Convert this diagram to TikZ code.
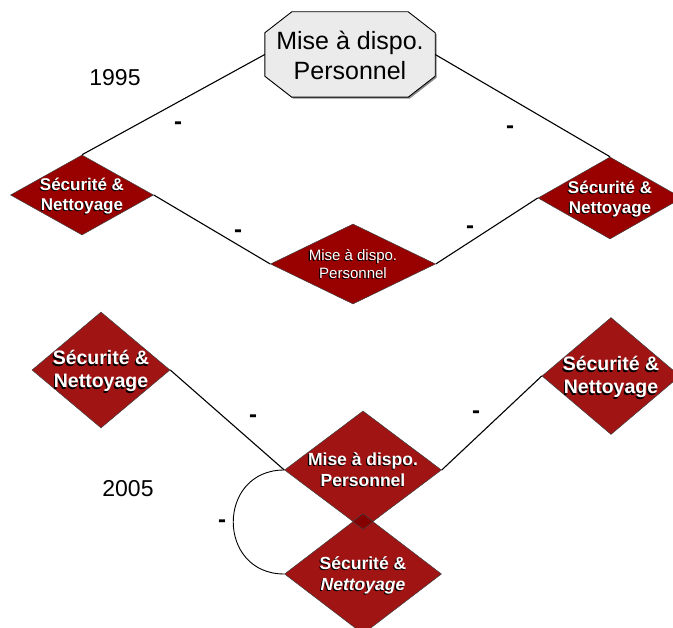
\documentclass[tikz,border=0pt]{standalone}
\usepackage{fontspec}
\setmainfont{Liberation Sans}
\usetikzlibrary{shapes.geometric,calc}
\pgfdeclarelayer{background}
\pgfsetlayers{background,main}

\definecolor{oldred}{HTML}{990000}
\definecolor{newred}{HTML}{A01414}
\definecolor{overlapred}{HTML}{850000}
\definecolor{octfill}{HTML}{EBEBEB}

% white lettering with a dark drop shadow
\newcommand\shtxt[1]{\leavevmode\rlap{\kern-1.1pt\raisebox{-1.1pt}{\color{black}#1}}{\color{white}#1}}
% centred text block that does not enlarge the shape around it
\newcommand\ctr[1]{\makebox[0pt]{\smash{\raisebox{-0.36em}{\begin{tabular}{@{}c@{}}#1\end{tabular}}}}}

\begin{document}
\begin{tikzpicture}[x=1pt,y=-1pt,
  link/.style={draw=black, line width=1.1pt},
  thinlink/.style={draw=black, line width=0.9pt},
  rhomb/.style={diamond, draw=black!75, line width=0.5pt, inner sep=0pt},
  red95/.style={rhomb, fill=oldred},
  red05/.style={rhomb, fill=newred},
  sidefont/.style={font=\bfseries\fontsize{17}{20}\selectfont},
  midfont/.style={font=\fontsize{15}{18}\selectfont},
  bigfont/.style={font=\bfseries\fontsize{19.5}{23}\selectfont},
  stackfont/.style={font=\bfseries\fontsize{17.5}{20.5}\selectfont},
  minus/.style={font=\bfseries\fontsize{24}{24}\selectfont, inner sep=0pt},
  year/.style={font=\fontsize{23}{23}\selectfont, inner sep=0pt}
]
\useasboundingbox (0,0) rectangle (673,628);

% ---------- 1995 ----------
\node[minimum width=170, minimum height=85, inner sep=0pt,
      font=\fontsize{25}{30}\selectfont] (oct) at (350,54.5)
      {\raisebox{-2.5pt}{\ctr{Mise à dispo.\\Personnel}}};
\begin{pgfonlayer}{background}
  \fill[black!45] ($(oct.north west)+(28.5,1.5)$) -- ($(oct.north east)+(-25.5,1.5)$)
    -- ($(oct.north east)+(1.5,22.5)$) -- ($(oct.south east)+(1.5,-19.5)$)
    -- ($(oct.south east)+(-25.5,1.5)$) -- ($(oct.south west)+(28.5,1.5)$)
    -- ($(oct.south west)+(1.5,-19.5)$) -- ($(oct.north west)+(1.5,22.5)$) -- cycle;
  \draw[fill=octfill, line width=0.9pt]
    ($(oct.north west)+(27,0)$) -- ($(oct.north east)+(-27,0)$)
    -- ($(oct.north east)+(0,21)$) -- ($(oct.south east)+(0,-21)$)
    -- ($(oct.south east)+(-27,0)$) -- ($(oct.south west)+(27,0)$)
    -- ($(oct.south west)+(0,-21)$) -- ($(oct.north west)+(0,21)$) -- cycle;
\end{pgfonlayer}

\node[red95, sidefont, minimum width=143, minimum height=80] (L95) at (82,195)
  {\ctr{\shtxt{Sécurité \&}\\\shtxt{Nettoyage}}};
\node[red95, sidefont, minimum width=144, minimum height=82] (R95) at (610,198)
  {\ctr{\shtxt{Sécurité \&}\\\shtxt{Nettoyage}}};
\node[red95, midfont, minimum width=165, minimum height=80] (M95) at (353,264)
  {\ctr{\shtxt{Mise à dispo.}\\\shtxt{Personnel}}};

\draw[link] (oct.west) -- (L95.north);
\draw[link] (oct.east) -- (R95.north);
\draw[link] (L95.east) -- (M95.west);
\draw[link] (M95.east) -- (R95.west);

\node[minus] (m1) at (178,126) {-};
\node[minus] (m2) at (510,130) {-};
\node[minus] (m3) at (238,234) {-};
\node[minus] (m4) at (470,230) {-};

\node[year] (y95) at (115,78) {1995};

% ---------- 2005 ----------
\node[red05, bigfont, minimum width=138, minimum height=116] (L05) at (101,370)
  {\ctr{\shtxt{Sécurité \&}\\\shtxt{Nettoyage}}};
\node[red05, bigfont, minimum width=138, minimum height=117] (R05) at (611,376)
  {\ctr{\shtxt{Sécurité \&}\\\shtxt{Nettoyage}}};
\node[red05, stackfont, minimum width=157, minimum height=118] (M05) at (363,470)
  {\ctr{\shtxt{Mise à dispo.}\\\shtxt{Personnel}}};
\node[red05, stackfont, minimum width=157, minimum height=120] (S05) at (363,574)
  {\ctr{\shtxt{Sécurité \&}\\\shtxt{\itshape Nettoyage}}};

% darker patch where the two stacked diamonds meet
\begin{scope}
  \clip (M05.north) -- (M05.east) -- (M05.south) -- (M05.west) -- cycle;
  \draw[fill=overlapred, draw=black!75, line width=0.5pt]
    (S05.north) -- (S05.east) -- (S05.south) -- (S05.west) -- cycle;
\end{scope}
\draw[draw=black!75, line width=0.5pt]
  ($(M05.south)!0.13!(M05.west)$) -- (M05.south) -- ($(M05.south)!0.13!(M05.east)$);

\draw[link] (L05.east) -- (M05.west);
\draw[link] (M05.east) -- (R05.west);
\draw[thinlink] (M05.west) .. controls +(-68,0) and +(-68,0) .. (S05.west);

\node[minus] (m5) at (253,419) {-};
\node[minus] (m6) at (476,415) {-};
\node[minus] (m7) at (222,524) {-};

\node[year] (y05) at (128,489) {2005};
\end{tikzpicture}
\end{document}
